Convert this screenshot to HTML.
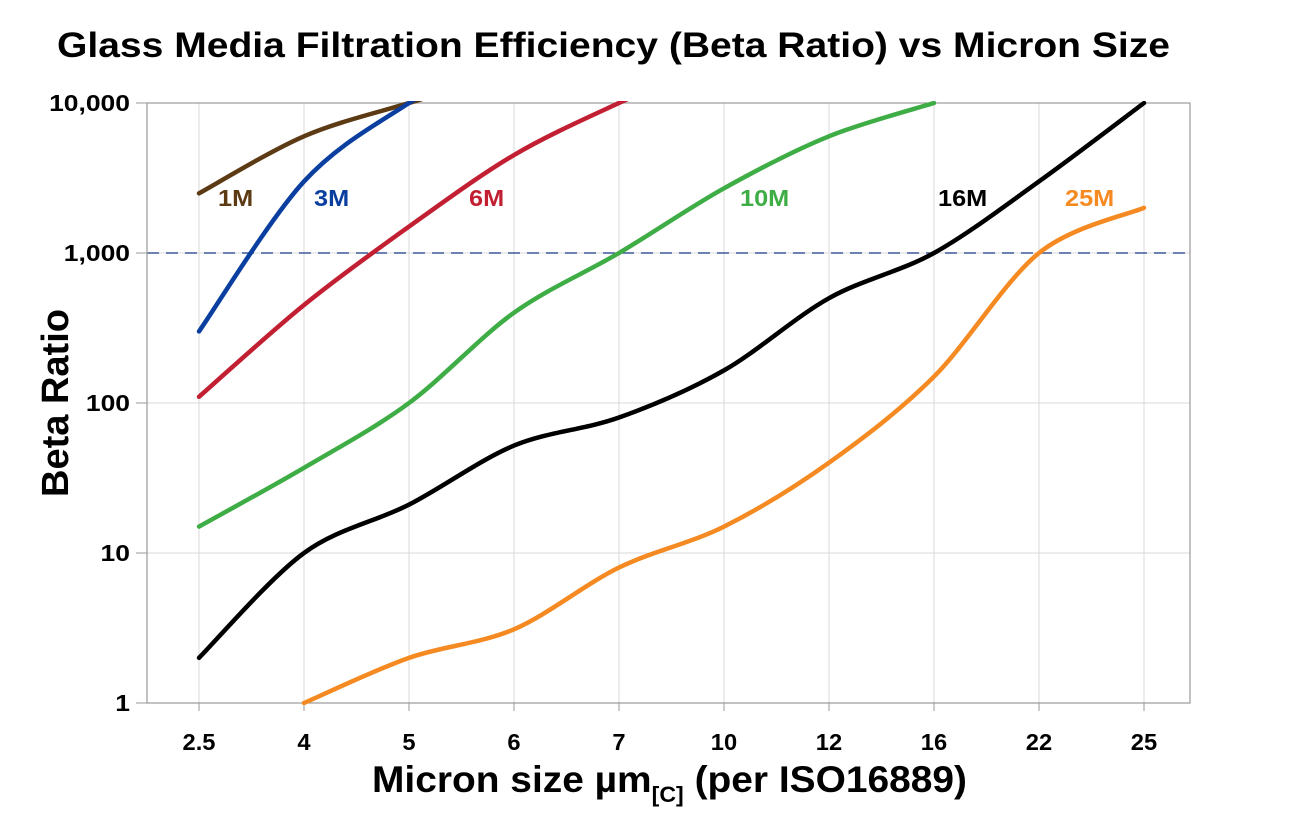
<!DOCTYPE html>
<html><head><meta charset="utf-8">
<style>
body{margin:0;background:#fff;}
svg text{font-family:"Liberation Sans",Arial,sans-serif;font-weight:bold;}
</style></head>
<body>
<svg id="s" width="1300" height="816" xmlns="http://www.w3.org/2000/svg">
<defs><clipPath id="c"><rect x="147" y="101" width="1043" height="604"/></clipPath></defs>
<text x="57" y="57" font-size="35" textLength="1113" lengthAdjust="spacingAndGlyphs" fill="#000">Glass Media Filtration Efficiency (Beta Ratio) vs Micron Size</text>
<g id="grid" stroke="#d8d8d8" stroke-width="1"></g>
<line x1="147" y1="253" x2="1190" y2="253" stroke="#3c5a98" stroke-width="1.5" stroke-dasharray="12,7"/>
<rect x="147" y="103" width="1043" height="600" fill="none" stroke="#9a9a9a" stroke-width="1.2"/>
<g id="ticks" font-size="23" fill="#000"></g>
<g id="lines" clip-path="url(#c)" fill="none" stroke-width="4.5" stroke-linejoin="round" stroke-linecap="round"></g>
<g id="labs" font-size="23">
<text x="218" y="206" fill="#5c3a14">1M</text>
<text x="314" y="206" fill="#0a3fa0">3M</text>
<text x="469" y="206" fill="#c21f32">6M</text>
<text x="740" y="206" fill="#3fad46">10M</text>
<text x="938" y="206" fill="#000">16M</text>
<text x="1065" y="206" fill="#f58a22">25M</text>
</g>
<text transform="translate(68,403) rotate(-90)" font-size="38" text-anchor="middle">Beta Ratio</text>
<text x="372" y="792" font-size="37" textLength="595" lengthAdjust="spacingAndGlyphs">Micron size µm<tspan font-size="22" dy="10">[C]</tspan><tspan dy="-10"> (per ISO16889)</tspan></text>
</svg>
<script>
var NS="http://www.w3.org/2000/svg";
function el(p,t,a,txt){var e=document.createElementNS(NS,t);for(var k in a)e.setAttribute(k,a[k]);if(txt)e.textContent=txt;document.getElementById(p).appendChild(e);return e;}
function stretch(e,f){var w=e.getComputedTextLength();e.setAttribute("textLength",w*f);e.setAttribute("lengthAdjust","spacingAndGlyphs");}
var xl=["2.5","4","5","6","7","10","12","16","22","25"];
function X(i){return 199+i*105;}
xl.forEach(function(l,i){el("grid","line",{x1:X(i),y1:103,x2:X(i),y2:703});
el("grid","line",{x1:X(i),y1:703,x2:X(i),y2:711,stroke:"#999"});
stretch(el("ticks","text",{x:X(i),y:750,"text-anchor":"middle"},l),1.03);});
var yl=["10,000","1,000","100","10","1"];
yl.forEach(function(l,i){var y=103+150*i;el("grid","line",{x1:147,y1:y,x2:1190,y2:y});
el("grid","line",{x1:136,y1:y,x2:147,y2:y,stroke:"#999"});
stretch(el("ticks","text",{x:130,y:y+8,"text-anchor":"end"},l),1.15);});
Array.prototype.forEach.call(document.querySelectorAll("#labs text"),function(e){stretch(e,1.1);});
function Y(v){return 703-150*Math.log10(v);}
var S=[
["#5c3a14",[[0,2500],[1,6000],[2,10000],[3,16000]]],
["#0a3fa0",[[0,300],[1,3000],[2,10000],[3,25000]]],
["#c21f32",[[0,110],[1,450],[2,1500],[3,4500],[4,10000],[5,20000]]],
["#3fad46",[[0,15],[1,37],[2,100],[3,400],[4,1000],[5,2700],[6,6000],[7,10000]]],
["#000000",[[0,2],[1,10],[2,21],[3,52],[4,80],[5,165],[6,500],[7,1000],[8,3000],[9,10000]]],
["#f58a22",[[1,1],[2,2],[3,3.1],[4,8],[5,15],[6,40],[7,150],[8,1000],[9,2000]]]];
S.forEach(function(s){var p=s[1].map(function(q){return[X(q[0]),Y(q[1])];});
var d="M"+p[0][0]+","+p[0][1];
for(var i=0;i<p.length-1;i++){var p0=p[Math.max(i-1,0)],p1=p[i],p2=p[i+1],p3=p[Math.min(i+2,p.length-1)];
var t=0.16;
d+=" C"+(p1[0]+(p2[0]-p0[0])*t)+","+(p1[1]+(p2[1]-p0[1])*t)+" "+(p2[0]-(p3[0]-p1[0])*t)+","+(p2[1]-(p3[1]-p1[1])*t)+" "+p2[0]+","+p2[1];}
el("lines","path",{d:d,stroke:s[0]});});
</script>
</body></html>
